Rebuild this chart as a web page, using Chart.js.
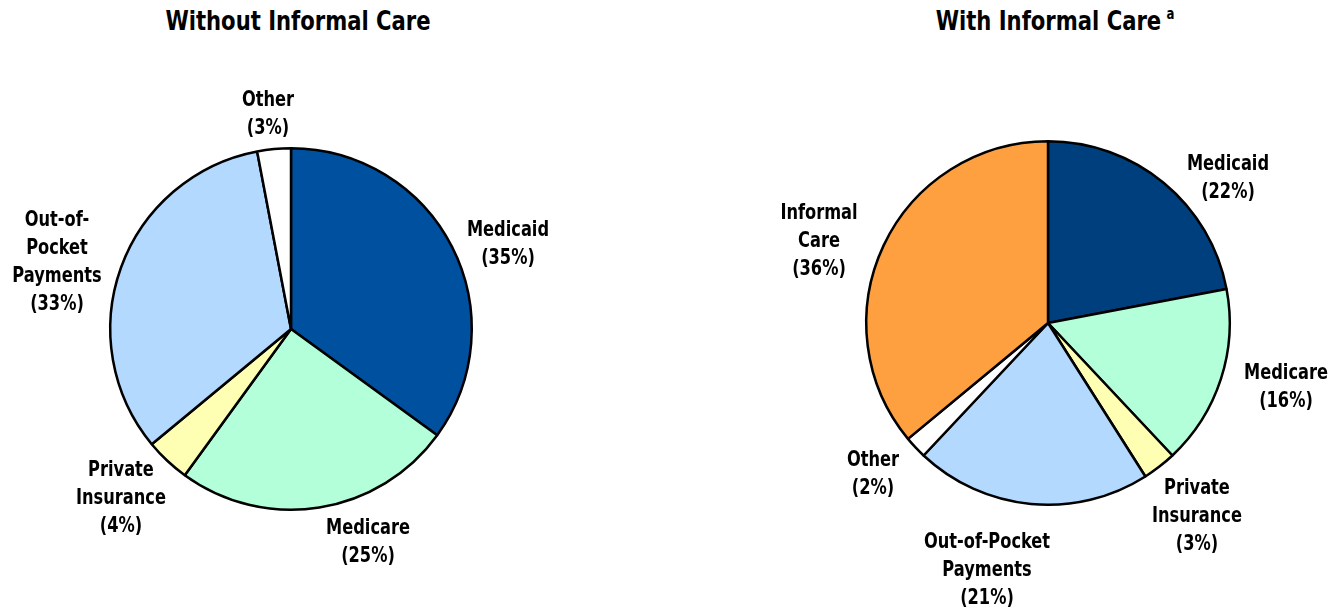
<!DOCTYPE html>
<html lang="en">
<head>
<meta charset="UTF-8">
<script src="https://cdn.jsdelivr.net/npm/chart.js"></script>
<title>Long-term care financing</title>
<style>
  body { margin: 0; background: #fff; width: 1342px; height: 611px; position: relative; overflow: hidden; }
  .panel { position: absolute; top: 0; width: 671px; height: 611px; }
  .title { position: absolute; top: 5px; font: bold 27px "DejaVu Sans Condensed", "Liberation Sans Narrow", sans-serif; color: #000; white-space: nowrap; transform: translateX(-50%) scaleX(0.87); }
  .title sup { font-size: 15px; margin-left: 6px; vertical-align: 11px; }
</style>
</head>
<body>
<div class="title" style="left:298px">Without Informal Care</div>
<div class="title" style="left:1055px">With Informal Care<sup>a</sup></div>
<div class="panel" style="left:0"><canvas id="leftPie" width="671" height="611"></canvas></div>
<div class="panel" style="left:671px"><canvas id="rightPie" width="671" height="611"></canvas></div>
<script>
// Without informal care
const leftCats = ['Medicaid', 'Medicare', 'Private Insurance', 'Out-of-Pocket Payments', 'Other'];
const leftVals = [35, 25, 4, 33, 3];
const leftLabels = [['Medicaid', '(35%)'], ['Medicare', '(25%)'], ['Private', 'Insurance', '(4%)'],
                    ['Out-of-', 'Pocket', 'Payments', '(33%)'], ['Other', '(3%)']];
const leftColors = ['#0050A0', '#B3FFD9', '#FFFFB3', '#B3D9FF', '#FFFFFF'];

// With informal care
const rightCats = ['Medicaid', 'Medicare', 'Private Insurance', 'Out-of-Pocket Payments', 'Other', 'Informal Care'];
const rightVals = [22, 16, 3, 21, 2, 36];
const rightLabels = [['Medicaid', '(22%)'], ['Medicare', '(16%)'], ['Private', 'Insurance', '(3%)'],
                     ['Out-of-Pocket', 'Payments', '(21%)'], ['Other', '(2%)'], ['Informal', 'Care', '(36%)']];
const rightColors = ['#003F7D', '#B3FFD9', '#FFFFB3', '#B3D9FF', '#FFFFFF', '#FFA040'];

// where the first line of each label sits (page coords)
const leftLabelPos = [[508, 230], [368, 528], [121, 470], [57, 220], [268, 100]];
const rightLabelPos = [[1228, 164], [1286, 373], [1197, 488], [987, 542], [873, 460], [819, 213]];

const labelFont = 'bold 22px "DejaVu Sans Condensed", "Liberation Sans Narrow", sans-serif';

function labelPlugin(lines, pos, offsetX) {
    return {
        id: 'sliceLabels',
        afterDraw(chart) {
            const ctx = chart.ctx;
            ctx.font = labelFont;
            ctx.fillStyle = '#000';
            ctx.textAlign = 'center';
            ctx.textBaseline = 'middle';
            lines.forEach((ls, i) => {
                ls.forEach((t, j) => {
                    ctx.save();
                    ctx.translate(pos[i][0] - offsetX, pos[i][1] + j * 28);
                    ctx.scale(0.82, 1);
                    ctx.fillText(t, 0, 0);
                    ctx.restore();
                });
            });
        }
    };
}

function makePie(id, cats, vals, colors, lines, pos, offsetX, padding) {
    new Chart(document.getElementById(id), {
        type: 'pie',
        data: {
            labels: cats,
            datasets: [{
                data: vals,
                backgroundColor: colors,
                borderColor: '#000',
                borderWidth: 2.5
            }]
        },
        options: {
            responsive: false,
            animation: false,
            layout: { padding: padding },
            plugins: { legend: { display: false }, tooltip: { enabled: false } }
        },
        plugins: [labelPlugin(lines, pos, offsetX)]
    });
}

makePie('leftPie', leftCats, leftVals, leftColors, leftLabels, leftLabelPos, 0,
        { left: 109, right: 198, top: 147, bottom: 100 });
makePie('rightPie', rightCats, rightVals, rightColors, rightLabels, rightLabelPos, 671,
        { left: 194, right: 111, top: 140, bottom: 105 });
</script>
</body>
</html>
